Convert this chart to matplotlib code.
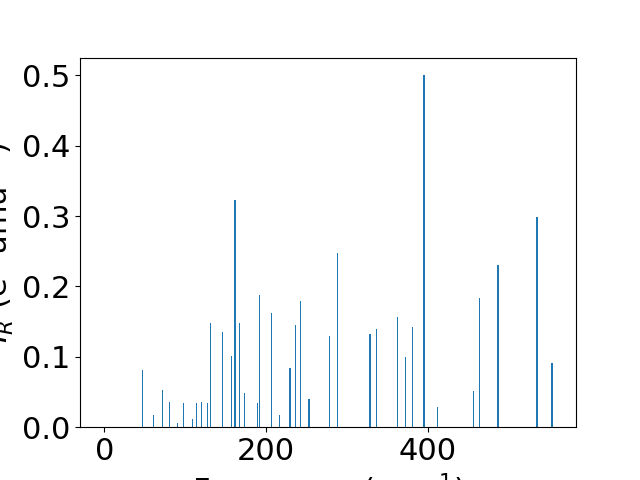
import numpy as np
import matplotlib
matplotlib.use('Agg')
import matplotlib.pyplot as plt

# vibrational modes
freqs = [47.4, 60.5, 72.1, 80.2, 90.6, 97.5, 109.1, 114.1, 120.2, 127.7,
         130.9, 145.7, 157.3, 161.4, 166.7, 173.3, 189.4, 191.9, 206.2, 216.5,
         229.3, 235.8, 242.5, 252.7, 277.8, 287.7, 328.4, 336.3, 362.2, 372.1,
         380.7, 395.1, 411.6, 456.0, 463.5, 486.5, 534.6, 553.1]
intens = [0.081, 0.0175, 0.053, 0.036, 0.006, 0.0345, 0.012, 0.0345, 0.036, 0.0345,
          0.148, 0.135, 0.101, 0.323, 0.148, 0.049, 0.0345, 0.188, 0.162, 0.0175,
          0.084, 0.145, 0.179, 0.040, 0.130, 0.247, 0.132, 0.139, 0.157, 0.100,
          0.143, 0.500, 0.029, 0.051, 0.183, 0.231, 0.299, 0.0905]

plt.rcParams['font.size'] = 22

fig = plt.figure(figsize=(6.4, 4.8), dpi=100)
ax = fig.add_subplot(111)
ax.bar(freqs, intens, width=1.6)
ax.set_xlim(-30, 582.7)
ax.set_xlabel('Frequency (cm$^{-1}$)')
ax.set_ylabel('$I_R$ (e$^2$ amu$^{-1}$)')
fig.savefig('out.png', dpi=100)
